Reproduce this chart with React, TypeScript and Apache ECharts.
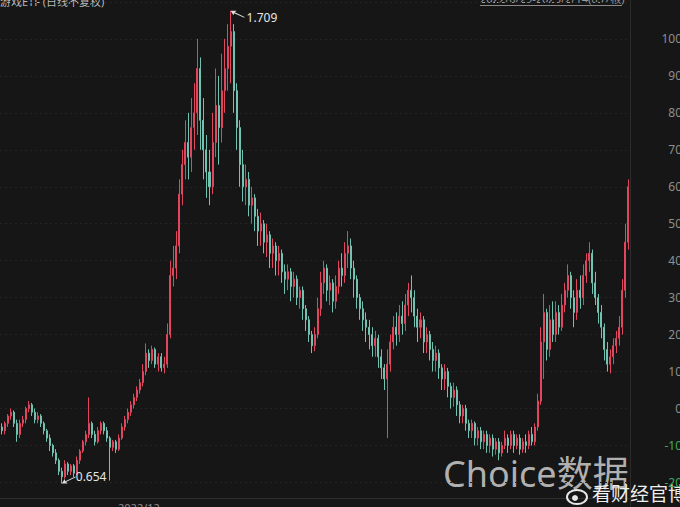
import React, { useEffect, useRef } from "react";
import * as echarts from "echarts";

const TITLE = "游戏ETF (日线不复权)";
const RANGE = "2022/6/29-2025/2/14(637根)";
const PEAK_PRICE = "1.709";
const TROUGH_PRICE = "0.654";
const WATERMARK = "Choice数据";
const SOURCE = "看财经官博";
const Y_MIN = -30;
const Y_MAX = 120;
const Y_STEP = 10;
const Y_LABEL_MAX = 100;

// [open, close, low, high] as % change (right axis units)
const candles: number[][] = [
  [-5, -6, -7, -4], [-6, -4, -7, -3.5], [-4, -2, -5, -1.5], [-2, -1, -3, 0], [-1, -4, -5, -0.5],
  [-4, -7, -9, -3], [-7, -4, -8, -3], [-4, -3, -5, -2], [-3, 0, -4, 0.5], [0, 1, -1, 2],
  [1, -1, -2, 1.5], [-1, -3, -4, 0], [-3, -2, -4, -1], [-2, -4, -5, -1.5], [-4, -6, -7, -3.5],
  [-6, -8, -9, -5.5], [-8, -10, -11.5, -7], [-10, -12, -13, -9.5], [-12, -14, -15, -11], [-14, -17, -18, -13.5],
  [-17, -18.5, -20.3, -16], [-18.5, -15, -19, -14], [-15, -17, -18, -14.5], [-17, -15.5, -18, -15], [-15.5, -17.5, -18.5, -15],
  [-17.5, -14, -18, -13], [-14, -11.5, -15, -11], [-11.5, -9, -12, -8.5], [-9, -7, -10, -6], [-7, -4, -8, 3],
  [-4, -7, -8, -3.5], [-7, -9, -10, -6], [-9, -6, -9.5, -5], [-6, -4, -7, -3.5], [-4, -6, -7, -3.5],
  [-6, -8, -9, -5], [-8, -10.5, -19.5, -7.5], [-10.5, -9, -11.5, -8.5], [-9, -11, -12, -8.5], [-11, -8, -11.5, -7],
  [-8, -5, -8.5, -4], [-5, -3, -6, -2], [-3, -1, -4, 0], [-1, 1, -2, 2], [1, 3, 0, 4],
  [3, 5, 2, 6], [5, 7, 4, 8], [7, 10, 6, 12], [10, 15, 9, 17.6], [15, 13, 11, 16],
  [13, 16, 12, 17], [16, 12, 11, 16.5], [12, 14, 10, 15], [14, 11, 10, 15], [11, 12, 9.5, 14],
  [12, 20, 11, 23], [20, 36, 19, 40], [36, 38, 33, 44], [38, 44, 35, 48], [44, 58, 42, 62],
  [58, 66, 55, 70], [66, 72, 62, 78], [72, 68, 62, 80], [68, 76, 64, 84], [76, 80, 70, 88],
  [80, 92, 74, 100], [92, 78, 70, 95], [78, 70, 62, 84], [70, 64, 57, 74], [64, 60, 55, 70],
  [60, 72, 58, 80], [72, 82, 68, 92], [82, 76, 66, 90], [76, 86, 72, 96], [86, 92, 80, 100],
  [92, 98, 86, 104], [98, 102, 88, 107.6], [102, 86, 80, 104], [86, 76, 70, 88], [76, 66, 60, 78],
  [66, 60, 56, 70], [60, 62, 55, 66], [62, 55, 52, 64], [55, 57, 50, 60], [57, 52, 48, 58],
  [52, 48, 44, 54], [48, 50, 44, 53], [50, 45, 42, 51], [45, 47, 41, 50], [47, 42, 38, 48],
  [42, 44, 38, 46], [44, 40, 36, 45], [40, 42, 36, 44], [42, 37, 34, 43], [37, 35, 31, 39],
  [35, 37, 32, 39], [37, 33, 29, 38], [33, 35, 30, 37], [35, 30, 28, 36], [30, 32, 27, 33],
  [32, 27, 24, 33], [27, 24, 21, 28], [24, 20, 18, 25], [20, 17, 15, 21], [17, 20, 15.5, 22],
  [20, 27, 19, 30], [27, 34, 25, 37], [34, 38, 31, 40], [38, 32, 29, 39], [32, 34, 28, 36],
  [34, 29, 26, 35], [29, 33, 27, 36], [33, 38, 31, 40], [38, 36, 33, 42], [36, 42, 34, 45],
  [42, 44, 38, 48], [44, 38, 35, 46], [38, 35, 30, 40], [35, 30, 27, 36], [30, 27, 24, 31],
  [27, 24, 21, 29], [24, 22, 18, 26], [22, 20, 16, 24], [20, 17, 14, 22], [17, 19, 14, 21],
  [19, 14, 11, 20], [14, 11, 8, 16], [11, 8, 5, 12], [8, 12, -8, 16], [12, 18, 10, 20],
  [18, 22, 16, 25], [22, 20, 17, 26], [20, 25, 18, 28], [25, 23, 20, 29], [23, 28, 21, 31],
  [28, 32, 25, 34], [32, 30, 26, 36], [30, 25, 22, 32], [25, 22, 18, 27], [22, 24, 19, 26],
  [24, 18, 15, 25], [18, 20, 15, 22], [20, 16, 13, 21], [16, 13, 10, 18], [13, 15, 10, 17],
  [15, 11, 8, 16], [11, 8, 5, 12], [8, 10, 5, 12], [10, 6, 3, 11], [6, 3, 0, 7],
  [3, 5, 0.5, 7], [5, 1, -2, 6], [1, -2, -4, 2], [-2, 0, -4, 1], [0, -4, -6, 1],
  [-4, -6, -8, -3], [-6, -4, -8, -3], [-4, -8, -10, -3.5], [-8, -6, -10, -5], [-6, -9, -11, -5],
  [-9, -7, -11, -6], [-7, -10, -12, -6], [-10, -8, -12, -7], [-8, -11, -13, -7], [-11, -9, -12.5, -8],
  [-9, -12, -14, -8], [-12, -10, -13, -9], [-10, -8, -11, -6], [-8, -10, -12, -7], [-10, -7, -11, -6],
  [-7, -10, -12, -6], [-10, -8, -11, -7], [-8, -11, -12.5, -7], [-11, -9, -12, -8], [-9, -10, -12, -7],
  [-10, -7, -11, -6], [-7, -9, -10, -5], [-9, -5, -10, -4], [-5, 2, -6, 4], [2, 18, 1, 22],
  [18, 26, 8, 31], [26, 16, 13, 27], [16, 24, 14, 28], [24, 20, 18, 29], [20, 26, 18, 29],
  [26, 22, 20, 28], [22, 28, 21, 31], [28, 32, 26, 34], [32, 36, 30, 39], [36, 30, 27, 37],
  [30, 26, 22, 32], [26, 32, 24, 35], [32, 30, 27, 36], [30, 36, 28, 39], [36, 40, 34, 42],
  [40, 42, 37, 45], [42, 34, 31, 43], [34, 30, 28, 37], [30, 26, 23, 31], [26, 22, 19, 28],
  [22, 16, 13, 23], [16, 12, 10, 18], [12, 14, 9.5, 16], [14, 17, 12, 19], [17, 19, 15, 21],
  [19, 22, 17, 25], [22, 32, 20, 35], [32, 45, 30, 50], [45, 60, 43, 62],
];

const categories = candles.map((_, i) => String(i));

const UP = "#e0465e";
const DOWN = "#72c2b2";
const FONT = "'Noto Sans', 'Noto Sans CJK SC', sans-serif";

const ARROW_UP_LEFT = "path://M0,0 L6,0 L4.2,1.5 L14,6.2 L13.6,7 L3.6,2.4 L2.8,4.5 Z";
const ARROW_DOWN_LEFT = "path://M0,7 L6,7 L4.2,5.5 L14,0.8 L13.6,0 L3.6,4.6 L2.8,2.5 Z";

export default function App() {
  const ref = useRef<HTMLDivElement>(null);
  useEffect(() => {
    if (!ref.current) return;
    document.body.style.margin = "0";
    document.body.style.background = "#161616";
    const chart = echarts.init(ref.current, undefined, { renderer: "svg" });
    chart.setOption({
      animation: false,
      backgroundColor: "#161616",
      grid: {
        left: 0,
        right: 50,
        top: -35,
        bottom: -12.4,
        containLabel: false,
        outerBoundsMode: "none",
      },
      xAxis: {
        type: "category",
        data: categories,
        boundaryGap: true,
        axisLine: { show: false },
        axisTick: { show: false },
        axisLabel: { show: false },
        splitLine: { show: false },
      },
      yAxis: {
        type: "value",
        position: "right",
        min: Y_MIN,
        max: Y_MAX,
        interval: Y_STEP,
        axisLine: { show: true, lineStyle: { color: "#2c2c2c", width: 1 } },
        axisTick: { show: false },
        splitLine: { show: true, lineStyle: { color: "#232323", type: [2, 3], width: 1 } },
        axisLabel: {
          margin: 52,
          align: "right",
          formatter: (v: number) =>
            v > Y_LABEL_MAX ? "" : v < 0 ? `{g|${v}}` : `{n|${v}}`,
          rich: {
            n: { color: "#8e8e8e", fontSize: 12, fontFamily: FONT },
            g: { color: "#3faa5c", fontSize: 12, fontFamily: FONT },
          },
        },
      },
      series: [
        {
          type: "candlestick",
          data: candles,
          barMaxWidth: 2,
          itemStyle: {
            color: UP,
            color0: DOWN,
            borderColor: UP,
            borderColor0: DOWN,
            borderWidth: 1,
          },
          markPoint: {
            silent: true,
            itemStyle: { color: "#dcdcdc" },
            label: {
              show: true,
              color: "#e6e6e6",
              fontSize: 12,
              fontFamily: FONT,
            },
            data: [
              {
                type: "max",
                valueDim: "highest",
                symbol: ARROW_UP_LEFT,
                symbolSize: [14, 7],
                symbolOffset: [7, 3.5],
                label: { formatter: PEAK_PRICE, position: [16, 1] },
              },
              {
                type: "min",
                valueDim: "lowest",
                symbol: ARROW_DOWN_LEFT,
                symbolSize: [14, 7],
                symbolOffset: [7, -3.5],
                label: { formatter: TROUGH_PRICE, position: [14, -6] },
              },
            ],
          },
        },
      ],
      graphic: [
        {
          type: "text",
          left: 0,
          top: -4,
          style: { text: TITLE, fill: "#b8b8b8", font: `11px ${FONT}` },
        },
        {
          type: "text",
          left: 480,
          top: -7,
          style: { text: RANGE, fill: "#9a9a9a", font: `11px ${FONT}` },
        },
        {
          type: "line",
          shape: { x1: 480, y1: 5.5, x2: 622, y2: 5.5 },
          style: { stroke: "#8a8a8a", lineWidth: 1 },
        },
        {
          type: "line",
          shape: { x1: 0, y1: 498.5, x2: 630, y2: 498.5 },
          style: { stroke: "#2e2e2e", lineWidth: 1 },
        },
        {
          type: "text",
          left: 118,
          top: 502,
          style: { text: "2022/12", fill: "#8e8e8e", font: `11px ${FONT}` },
        },
        {
          type: "text",
          left: 443,
          top: 455,
          style: { text: WATERMARK, fill: "rgba(205,205,205,0.85)", font: `36px ${FONT}` },
        },
        {
          type: "ellipse",
          shape: { cx: 577, cy: 497, rx: 10, ry: 7 },
          style: { fill: "none", stroke: "#e8e8e8", lineWidth: 2 },
        },
        {
          type: "circle",
          shape: { cx: 575, cy: 498, r: 3 },
          style: { fill: "#e8e8e8" },
        },
        {
          type: "text",
          left: 592,
          top: 484,
          style: { text: SOURCE, fill: "#eeeeee", font: `19px ${FONT}` },
        },
      ],
    });
    return () => chart.dispose();
  }, []);
  return (
    <div
      ref={ref}
      style={{ position: "fixed", left: 0, top: 0, width: 680, height: 507, background: "#161616" }}
    />
  );
}
